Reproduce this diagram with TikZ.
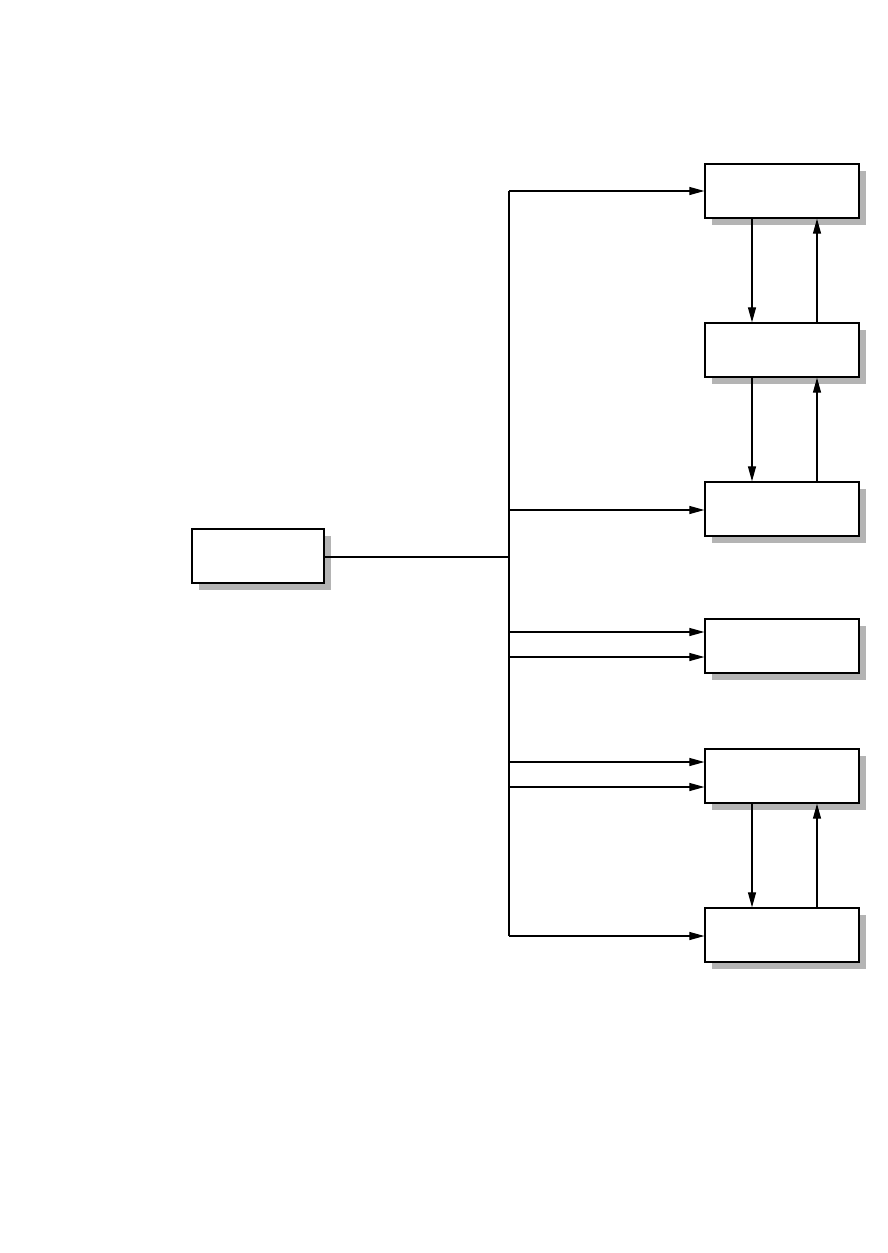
\documentclass[tikz,border=0pt]{standalone}
\usetikzlibrary{arrows.meta,shadows}
\definecolor{shadowgray}{RGB}{180,180,180}
\begin{document}
\begin{tikzpicture}[x=1pt,y=-1pt,
  box/.style={draw=black,line width=1.3pt,fill=white,minimum width=154pt,minimum height=54pt,inner sep=0pt,
    drop shadow={shadow xshift=6.5pt,shadow yshift=-7pt,fill=shadowgray,opacity=1}},
  lbox/.style={box,minimum width=132pt},
  conn/.style={line width=1.2pt},
  arr/.style={conn,-{Triangle[length=15pt,width=8pt]}}]
\useasboundingbox (0,0) rectangle (888,1253);
\node[lbox] (L) at (258,556) {};
\node[box] (B1) at (782,191) {};
\node[box] (B2) at (782,350) {};
\node[box] (B3) at (782,509) {};
\node[box] (B4) at (782,646) {};
\node[box] (B5) at (782,776) {};
\node[box] (B6) at (782,935) {};
\coordinate (j0) at (509,557);
\coordinate (t1) at (509,191);
\coordinate (t3) at (509,510);
\coordinate (t4a) at (509,632);
\coordinate (t4b) at (509,657);
\coordinate (t5a) at (509,762);
\coordinate (t5b) at (509,787);
\coordinate (t6) at (509,936);
\coordinate (dn) at (752,0);
\coordinate (up) at (817,0);
\draw[conn] (L.east |- j0) -- (j0);
\draw[conn] (t1) -- (t6);
\draw[arr] (t1) -- (B1.west |- t1);
\draw[arr] (t3) -- (B3.west |- t3);
\draw[arr] (t4a) -- (B4.west |- t4a);
\draw[arr] (t4b) -- (B4.west |- t4b);
\draw[arr] (t5a) -- (B5.west |- t5a);
\draw[arr] (t5b) -- (B5.west |- t5b);
\draw[arr] (t6) -- (B6.west |- t6);
\draw[arr] (B1.south -| dn) -- (B2.north -| dn);
\draw[arr] (B2.north -| up) -- (B1.south -| up);
\draw[arr] (B2.south -| dn) -- (B3.north -| dn);
\draw[arr] (B3.north -| up) -- (B2.south -| up);
\draw[arr] (B5.south -| dn) -- (B6.north -| dn);
\draw[arr] (B6.north -| up) -- (B5.south -| up);
\end{tikzpicture}
\end{document}
